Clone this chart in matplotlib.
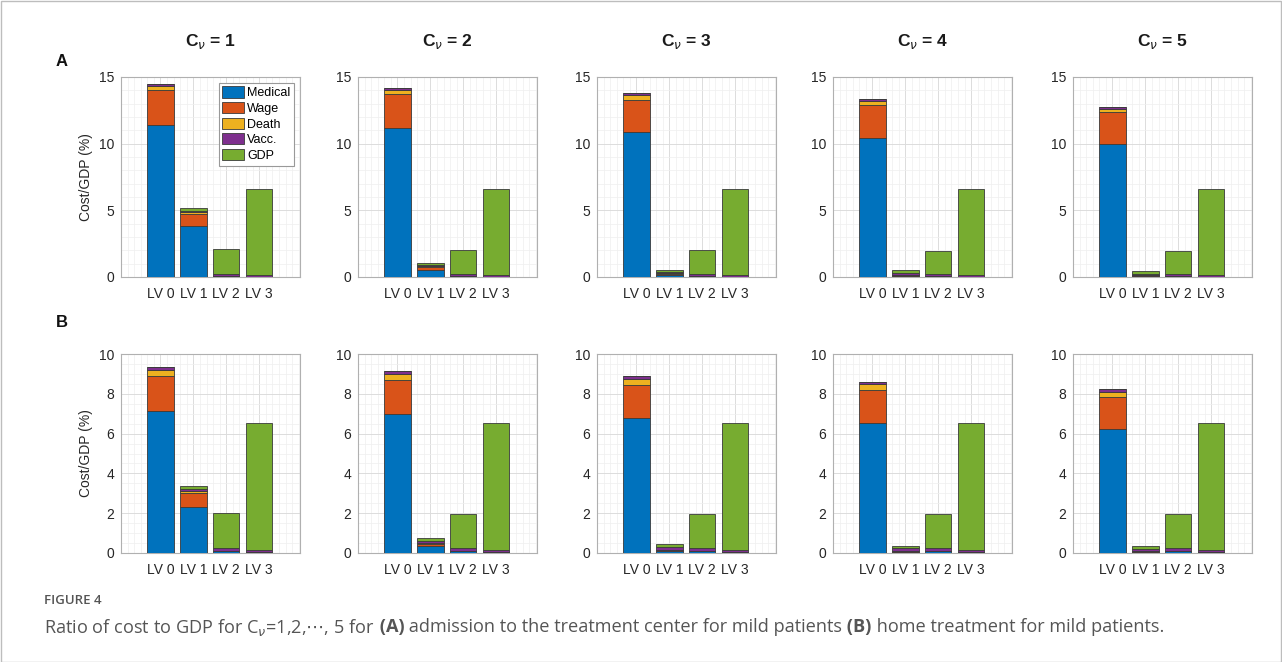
import numpy as np
import matplotlib
matplotlib.use("Agg")
import matplotlib.pyplot as plt
from matplotlib.patches import Rectangle
from matplotlib.ticker import MultipleLocator

plt.rcParams['font.family'] = ['Liberation Sans', 'DejaVu Sans']

levels = ["LV 0", "LV 1", "LV 2", "LV 3"]
c_values = [1, 2, 3, 4, 5]
components = ["Medical", "Wage", "Death", "Vacc.", "GDP"]
colors = ["#0072BD", "#D95319", "#EDB120", "#7E2F8E", "#77AC30"]

# row A: admission to treatment center (rows = C_nu 1..5, cols = LV 0..3)
medical_A = [[11.40, 3.85, 0.08, 0.03],
             [11.15, 0.55, 0.06, 0.03],
             [10.85, 0.15, 0.05, 0.03],
             [10.45, 0.10, 0.05, 0.03],
             [9.98, 0.08, 0.05, 0.03]]
wage_A = [[2.60, 0.90, 0.02, 0.00],
          [2.55, 0.20, 0.02, 0.00],
          [2.45, 0.10, 0.02, 0.00],
          [2.45, 0.05, 0.02, 0.00],
          [2.42, 0.04, 0.02, 0.00]]
death_A = [[0.35, 0.10, 0.00, 0.00],
           [0.30, 0.05, 0.00, 0.00],
           [0.35, 0.02, 0.00, 0.00],
           [0.30, 0.02, 0.00, 0.00],
           [0.18, 0.01, 0.00, 0.00]]
vacc_A = [[0.15, 0.10, 0.12, 0.12],
          [0.20, 0.10, 0.12, 0.12],
          [0.15, 0.12, 0.12, 0.12],
          [0.17, 0.13, 0.12, 0.12],
          [0.20, 0.12, 0.12, 0.12]]
gdp_A = [[0.00, 0.25, 1.85, 6.42],
         [0.00, 0.15, 1.80, 6.42],
         [0.00, 0.17, 1.80, 6.42],
         [0.00, 0.20, 1.78, 6.42],
         [0.00, 0.20, 1.77, 6.42]]

# row B: home treatment
medical_B = [[7.14, 2.33, 0.10, 0.03],
             [6.97, 0.33, 0.10, 0.03],
             [6.78, 0.10, 0.10, 0.03],
             [6.55, 0.07, 0.10, 0.03],
             [6.23, 0.06, 0.10, 0.03]]
wage_B = [[1.76, 0.67, 0.02, 0.00],
          [1.72, 0.12, 0.02, 0.00],
          [1.66, 0.05, 0.02, 0.00],
          [1.65, 0.03, 0.02, 0.00],
          [1.62, 0.02, 0.02, 0.00]]
death_B = [[0.30, 0.10, 0.00, 0.00],
           [0.30, 0.03, 0.00, 0.00],
           [0.30, 0.01, 0.00, 0.00],
           [0.29, 0.01, 0.00, 0.00],
           [0.22, 0.01, 0.00, 0.00]]
vacc_B = [[0.16, 0.13, 0.12, 0.14],
          [0.17, 0.10, 0.12, 0.14],
          [0.16, 0.12, 0.12, 0.14],
          [0.11, 0.12, 0.12, 0.14],
          [0.17, 0.12, 0.12, 0.14]]
gdp_B = [[0.00, 0.15, 1.76, 6.38],
         [0.00, 0.17, 1.74, 6.38],
         [0.00, 0.16, 1.71, 6.38],
         [0.00, 0.14, 1.71, 6.38],
         [0.00, 0.14, 1.71, 6.38]]

rows = [
    ("A", [medical_A, wage_A, death_A, vacc_A, gdp_A], 15, 5, 1),
    ("B", [medical_B, wage_B, death_B, vacc_B, gdp_B], 10, 2, 0.5),
]

W, H = 1282, 662
fig = plt.figure(figsize=(W / 100, H / 100), dpi=100)
fig.patches.append(Rectangle((0.5 / W, 0.5 / H), 1 - 1.5 / W, 1 - 1.5 / H,
                             transform=fig.transFigure, fill=False,
                             edgecolor="#bdbdbd", linewidth=1.0))

lefts = [121, 358, 597, 833, 1073]
ax_w = 179
row_box = [(77, 277), (354, 553)]
letter_y = [62, 322]

x = np.arange(1, len(levels) + 1)
for r, (letter, comps, ymax, major, minor) in enumerate(rows):
    top, bot = row_box[r]
    for p, cv in enumerate(c_values):
        ax = fig.add_axes([lefts[p] / W, (H - bot) / H, ax_w / W, (bot - top) / H])
        bottom = np.zeros(len(levels))
        for k, comp in enumerate(comps):
            vals = np.array(comp[p])
            ax.bar(x, vals, 0.8, bottom=bottom, color=colors[k],
                   edgecolor="#3a3a3a", linewidth=0.6, label=components[k], zorder=3)
            bottom += vals
        ax.set_xlim(-0.2, 5.24)
        ax.set_ylim(0, ymax)
        ax.set_xticks(x)
        ax.set_xticklabels(levels)
        ax.yaxis.set_major_locator(MultipleLocator(major))
        ax.yaxis.set_minor_locator(MultipleLocator(minor))
        ax.xaxis.set_minor_locator(MultipleLocator(0.2))
        ax.grid(which="major", color="#dcdcdc", linewidth=0.7, zorder=0)
        ax.grid(which="minor", color="#efefef", linewidth=0.5, zorder=0)
        ax.set_axisbelow(True)
        ax.tick_params(which="both", direction="in", length=0, labelsize=10,
                       colors="#262626")
        ax.tick_params(axis="x", pad=7)
        ax.tick_params(axis="y", pad=5)
        for s in ax.spines.values():
            s.set_color("#b0b0b0")
            s.set_linewidth(0.8)
        if p == 0:
            ax.set_ylabel("Cost/GDP (%)", fontsize=10, color="#262626", labelpad=4)
        if r == 0:
            ax.set_title(r"C$_{\nu}$ = %d" % cv, fontsize=12.5, fontweight="bold",
                         pad=22, color="#1a1a1a")
        if r == 0 and p == 0:
            leg = ax.legend(loc="upper right", fontsize=9, handlelength=1.75,
                            handleheight=1.0, handletextpad=0.25, labelspacing=0.22,
                            borderpad=0.3, borderaxespad=0.45, fancybox=False,
                            framealpha=1)
            leg.get_frame().set_edgecolor("#999999")
            leg.get_frame().set_linewidth(0.8)
    fig.text(56 / W, 1 - letter_y[r] / H, letter, fontsize=12, fontweight="bold",
             ha="left", va="center", color="#111111")

# caption
fig.text(44 / W, 1 - 600 / H, "FIGURE 4", fontsize=9.5, color="#555555",
         ha="left", va="center", family="Open Sans", fontweight="semibold")

pieces = [
    (r"Ratio of cost to GDP for C$_{\nu}$=1,2,$\cdots$, 5 for", "normal"),
    (" (A)", "bold"),
    (" admission to the treatment center for mild patients", "normal"),
    (" (B)", "bold"),
    (" home treatment for mild patients.", "normal"),
]
renderer = fig.canvas.get_renderer()
xpos = 44
for txt, wt in pieces:
    t = fig.text(xpos / W, 1 - 627 / H, txt, fontsize=13.1, fontweight=wt,
                 color="#555555", ha="left", va="center", family="Open Sans")
    bb = t.get_window_extent(renderer=renderer)
    xpos += bb.width

fig.savefig("out.png", dpi=100)
